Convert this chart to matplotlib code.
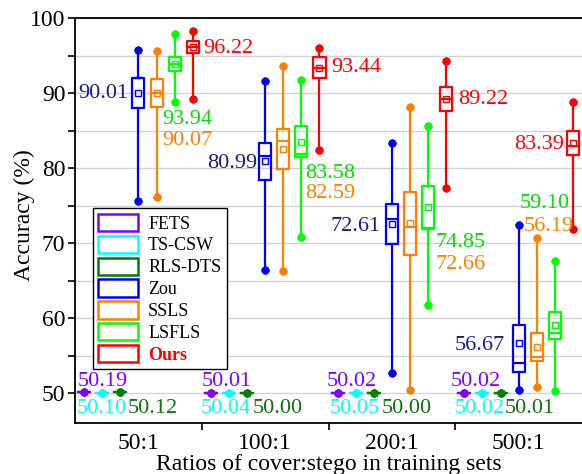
import matplotlib
matplotlib.use("Agg")
import matplotlib.pyplot as plt
from matplotlib.patches import Patch
from matplotlib.ticker import MultipleLocator, FixedLocator, NullFormatter

plt.rcParams['font.family'] = ['Liberation Serif', 'DejaVu Serif']

# ---------------- data ----------------
groups = ["50:1", "100:1", "200:1", "500:1"]
methods = ["FETS", "TS-CSW", "RLS-DTS", "Zou", "SSLS", "LSFLS", "Ours"]
colors = ["#8000ff", "#00ffff", "#008000", "#0000ff", "#ff8000", "#00ff00", "#ff0000"]
text_colors = ["#8000ff", "#00ffff", "#107010", "#1a1a90", "#ff8000", "#00e000", "#ff0000"]

# flat methods (all around 50%)
fets_mean = [50.19, 50.01, 50.02, 50.02]
tscsw_mean = [50.10, 50.04, 50.05, 50.02]
rlsdts_mean = [50.12, 50.00, 50.00, 50.01]

zou_lo = [75.7, 66.4, 52.7, 50.4]
zou_q1 = [88.1, 78.5, 69.9, 52.9]
zou_med = [92.0, 81.6, 73.2, 54.1]
zou_q3 = [92.0, 83.4, 75.3, 59.1]
zou_hi = [95.8, 91.7, 83.4, 72.4]
zou_mean = [90.01, 80.99, 72.61, 56.67]

ssls_lo = [76.2, 66.3, 50.4, 50.9]
ssls_q1 = [88.2, 79.9, 68.5, 54.3]
ssls_med = [90.1, 83.7, 72.2, 54.9]
ssls_q3 = [91.9, 85.2, 76.8, 58.0]
ssls_hi = [95.7, 93.6, 88.2, 70.7]
ssls_mean = [90.07, 82.59, 72.66, 56.19]

lsfls_lo = [88.9, 70.8, 61.8, 50.3]
lsfls_q1 = [93.0, 81.5, 71.9, 57.2]
lsfls_med = [93.9, 81.9, 72.1, 58.0]
lsfls_q3 = [94.8, 85.7, 77.6, 60.9]
lsfls_hi = [97.9, 91.8, 85.7, 67.7]
lsfls_mean = [93.94, 83.58, 74.85, 59.10]

ours_lo = [89.3, 82.4, 77.4, 71.9]
ours_q1 = [95.4, 92.1, 87.6, 81.8]
ours_med = [96.2, 93.4, 89.2, 83.0]
ours_q3 = [97.0, 94.8, 90.9, 85.0]
ours_hi = [98.3, 96.0, 94.3, 88.9]
ours_mean = [96.22, 93.44, 89.22, 83.39]

# ---------------- figure ----------------
fig = plt.figure(figsize=(5.82, 4.74), dpi=100)
ax = fig.add_axes([0.129, 0.107, 0.871, 0.854])

box_w = 0.095
step = 1.0 / 7

def draw(k, lo, q1, med, q3, hi, mean, show_mean=True):
    col = colors[k]
    stats = []
    for i in range(len(groups)):
        stats.append(dict(whislo=lo[i], q1=q1[i], med=med[i], q3=q3[i],
                          whishi=hi[i], mean=mean[i], fliers=[]))
    pos = [g + 1 + (k - 3) * step for g in range(len(groups))]
    ax.bxp(stats, positions=pos, widths=box_w, showmeans=show_mean,
           showfliers=False, capwidths=0.0, manage_ticks=False,
           boxprops=dict(color=col, lw=1.6),
           medianprops=dict(color=col, lw=1.6),
           whiskerprops=dict(color=col, lw=1.6),
           capprops=dict(color=col, marker='o', markersize=4.8, lw=1.6),
           meanprops=dict(marker='s', markerfacecolor='none', markeredgecolor=col,
                          markersize=4.5, markeredgewidth=1.0),
           zorder=3)

for k, m in enumerate([fets_mean, tscsw_mean, rlsdts_mean]):
    draw(k, m, m, m, m, m, m, show_mean=False)
draw(3, zou_lo, zou_q1, zou_med, zou_q3, zou_hi, zou_mean)
draw(4, ssls_lo, ssls_q1, ssls_med, ssls_q3, ssls_hi, ssls_mean)
draw(5, lsfls_lo, lsfls_q1, lsfls_med, lsfls_q3, lsfls_hi, lsfls_mean)
draw(6, ours_lo, ours_q1, ours_med, ours_q3, ours_hi, ours_mean)

# ---------------- value labels (layout) ----------------
fs = 16
# (value list index k, group, x, y, ha)
label_layout = [
    (0, 0, 0.721, 51.55, 'center'), (1, 0, 0.711, 47.91, 'center'), (2, 0, 1.113, 47.91, 'center'),
    (3, 0, 0.918, 90.0, 'right'), (4, 0, 1.184, 83.77, 'left'), (5, 0, 1.184, 86.57, 'left'),
    (6, 0, 1.513, 96.0, 'left'),
    (0, 1, 1.697, 51.55, 'center'), (1, 1, 1.686, 47.91, 'center'), (2, 1, 2.097, 47.91, 'center'),
    (3, 1, 1.934, 80.71, 'right'), (4, 1, 2.315, 76.67, 'left'), (5, 1, 2.315, 79.33, 'left'),
    (6, 1, 2.518, 93.41, 'left'),
    (0, 2, 2.684, 51.55, 'center'), (1, 2, 2.710, 47.91, 'center'), (2, 2, 3.118, 47.91, 'center'),
    (3, 2, 2.913, 72.21, 'right'), (4, 2, 3.341, 67.2, 'left'), (5, 2, 3.341, 70.13, 'left'),
    (6, 2, 3.520, 89.24, 'left'),
    (0, 3, 3.665, 51.55, 'center'), (1, 3, 3.691, 47.91, 'center'), (2, 3, 4.091, 47.91, 'center'),
    (3, 3, 3.894, 56.44, 'right'), (4, 3, 4.038, 72.21, 'left'), (5, 3, 4.209, 75.33, 'center'),
    (6, 3, 4.360, 83.24, 'right'),
]
means = [fets_mean, tscsw_mean, rlsdts_mean, zou_mean, ssls_mean, lsfls_mean, ours_mean]
for k, g, x, y, ha in label_layout:
    ax.text(x, y, f"{means[k][g]:.2f}", color=text_colors[k], fontsize=fs,
            ha=ha, va='center', zorder=5)

# ---------------- axes ----------------
ax.set_xlim(0.5, 4.5)
ax.set_ylim(46, 100)
ax.yaxis.set_major_locator(MultipleLocator(10))
ax.yaxis.set_minor_locator(MultipleLocator(5))
ax.grid(True, which='both', axis='y', color='#d3d3d3', lw=1.0, zorder=0)
ax.set_axisbelow(True)

ax.set_xticks([1, 2, 3, 4])
ax.set_xticklabels(groups)
ax.xaxis.set_minor_locator(FixedLocator([1.5, 2.5, 3.5]))
ax.xaxis.set_minor_formatter(NullFormatter())
ax.tick_params(axis='x', which='major', length=0, labelsize=17, pad=7)
ax.tick_params(axis='x', which='minor', length=5, width=1.2, direction='out')
ax.tick_params(axis='y', which='both', length=5, width=1.2, direction='out', labelsize=17, pad=2)

for s in ['left', 'bottom', 'top']:
    ax.spines[s].set_linewidth(1.3)
ax.spines['right'].set_visible(False)

ax.set_ylabel("Accuracy (%)", fontsize=17)
ax.yaxis.set_label_coords(-0.079, 0.513)
ax.set_xlabel("Ratios of cover:stego in training sets", fontsize=17, labelpad=0)

handles = [Patch(facecolor='white', edgecolor=c, lw=1.8) for c in colors]
leg = ax.legend(handles, methods, loc='upper left', bbox_to_anchor=(0.0355, 0.531),
                borderaxespad=0, fontsize=13, handlelength=2.2, handleheight=1.1,
                labelspacing=0.17, handletextpad=0.55, borderpad=0.3,
                fancybox=False, framealpha=1, edgecolor='black')
leg.get_frame().set_linewidth(1.0)
leg.set_zorder(6)
t = leg.get_texts()[-1]
t.set_color('#ff0000')
t.set_fontweight('bold')

fig.savefig("out.png", dpi=100)
